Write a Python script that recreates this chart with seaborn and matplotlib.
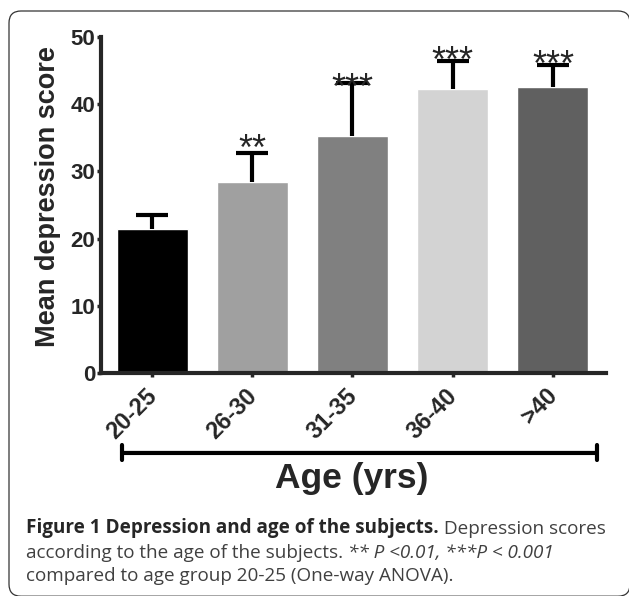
import numpy as np
import pandas as pd
import seaborn as sns
import matplotlib.pyplot as plt
from matplotlib.patches import FancyBboxPatch
from matplotlib.transforms import ScaledTranslation

# values
age_groups = ["20-25", "26-30", "31-35", "36-40", ">40"]
mean_scores = [21.4, 28.4, 35.2, 42.2, 42.5]
score_err = [2.1, 4.4, 8.0, 4.2, 3.3]
significance = ["", "**", "***", "***", "***"]
bar_colors = ["#000000", "#a0a0a0", "#808080", "#d3d3d3", "#606060"]

caption_title = "Figure 1 Depression and age of the subjects."
caption_rest = [" Depression scores", "according to the age of the subjects. ",
                "compared to age group 20-25 (One-way ANOVA)."]
caption_stats = "** P <0.01, ***P < 0.001"

df = pd.DataFrame({"age": age_groups, "score": mean_scores, "err": score_err})

sns.set_theme(style="ticks")
plt.rcParams["font.family"] = ["Liberation Sans", "DejaVu Sans"]

fig = plt.figure(figsize=(6.29, 5.96), dpi=100)
ax = fig.add_axes([101 / 629, 1 - 373 / 596, 505 / 629, 336 / 596])

sns.barplot(data=df, x="age", y="score", hue="age", palette=bar_colors,
            width=0.71, saturation=1, legend=False, ax=ax)

eb = ax.errorbar(np.arange(len(df)), df["score"], yerr=[np.zeros(len(df)), df["err"]],
                 fmt="none", ecolor="black", elinewidth=3, capsize=11.5, capthick=3,
                 zorder=3)
eb[1][0].set_visible(False)  # only the upper cap

star_offsets = [0, -5, -12, -7.5, -7.5]
for i, (m, e, s) in enumerate(zip(mean_scores, score_err, significance)):
    if s:
        ax.annotate(s, xy=(i, m + e), xytext=(0, star_offsets[i]),
                    textcoords="offset points", ha="center", va="baseline",
                    fontsize=26, fontfamily="Liberation Sans")

ax.set_ylim(0, 50)
ax.set_xlim(-0.51, 4.53)
ax.set_yticks(range(0, 51, 10))
sns.despine(ax=ax)
for side in ["left", "bottom"]:
    ax.spines[side].set_linewidth(3)

ax.tick_params(axis="y", length=3, width=2.5, pad=1, labelsize=16)
ax.tick_params(axis="x", length=3, width=2.5, pad=5)
plt.setp(ax.get_yticklabels(), fontweight="bold")
ax.set_xticks(range(len(age_groups)))
ax.set_xticklabels(age_groups, rotation=45, ha="right", va="top",
                   rotation_mode="anchor", fontweight="bold", fontsize=17)
shift = ScaledTranslation(-7 / 100, 0, fig.dpi_scale_trans)
for lab in ax.get_xticklabels():
    lab.set_transform(lab.get_transform() + shift)

ax.set_ylabel("Mean depression score", fontsize=19.5, fontweight="bold")
ax.yaxis.set_label_coords(-0.079, 0.524)
ax.set_xlabel("Age (yrs)", fontsize=25.5, fontweight="bold", va="baseline")
ax.xaxis.set_label_coords(0.496, -0.342)

# bracket line under the group labels
ax.annotate("", xy=(len(age_groups) - 0.56, -0.238), xytext=(-0.30, -0.238),
            xycoords=("data", "axes fraction"),
            arrowprops=dict(arrowstyle="|-|,widthA=0.45,widthB=0.45", lw=3,
                            color="black", shrinkA=0, shrinkB=0))

# rounded frame
fig.patches.append(FancyBboxPatch((0.09, -0.002), 6.21, 5.852,
                                  boxstyle="round,pad=0,rounding_size=0.12",
                                  transform=fig.dpi_scale_trans, fill=False,
                                  edgecolor="#333333", linewidth=0.9))

# caption
cap_kw = dict(fontfamily="Open Sans", fontsize=13.6)
t1 = fig.text(0.26, 0.58, caption_title, transform=fig.dpi_scale_trans,
              fontweight="bold", color="#262626", va="bottom", **cap_kw)
fig.add_artist(plt.Annotation(caption_rest[0], xy=(1, 0), xycoords=t1, va="bottom",
                              color="#404040", **cap_kw))
t2 = fig.text(0.26, 0.345, caption_rest[1], transform=fig.dpi_scale_trans,
              color="#404040", va="bottom", **cap_kw)
fig.add_artist(plt.Annotation(caption_stats, xy=(1, 0), xycoords=t2, va="bottom",
                              color="#404040", fontstyle="italic", **cap_kw))
fig.text(0.26, 0.11, caption_rest[2], transform=fig.dpi_scale_trans,
         color="#404040", va="bottom", **cap_kw)

fig.savefig("out.png", dpi=100)
